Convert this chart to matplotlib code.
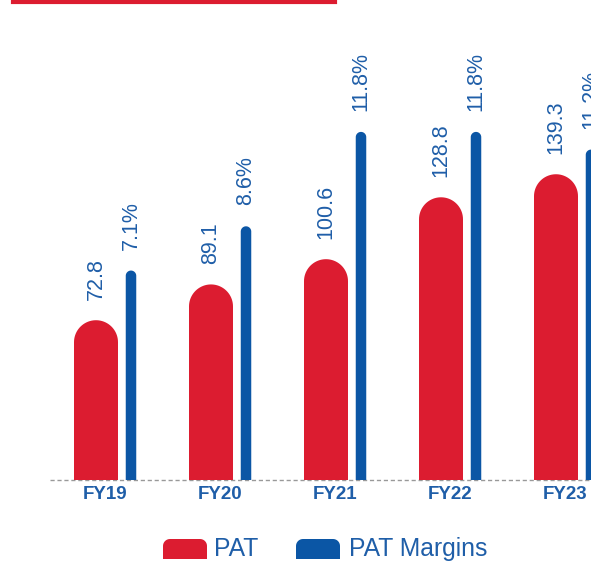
import numpy as np
import matplotlib
matplotlib.use("Agg")
import matplotlib.pyplot as plt
from matplotlib.patches import PathPatch
from matplotlib.path import Path
from matplotlib.lines import Line2D
from matplotlib.transforms import IdentityTransform

plt.rcParams['font.family'] = ['Liberation Sans', 'DejaVu Sans']

years = ["FY19", "FY20", "FY21", "FY22", "FY23"]
pat = [72.8, 89.1, 100.6, 128.8, 139.3]
margins = [7.1, 8.6, 11.8, 11.8, 11.2]
pat_labels = ["72.8", "89.1", "100.6", "128.8", "139.3"]
margin_labels = ["7.1%", "8.6%", "11.8%", "11.8%", "11.2%"]

RED = "#dc1c30"
BLUE = "#0b56a5"
TXT = "#1f5ea8"

W, H = 591, 563
fig = plt.figure(figsize=(W / 100, H / 100), dpi=100)
ax = fig.add_axes([0, 83 / H, 1, 480 / H])
ax2 = ax.twinx()
ax.set_xlim(-105 / 115, (W - 105) / 115)
ax.set_ylim(0, 480 / 2.195)
ax2.set_ylim(0, 480 / 29.5)
for a in (ax, ax2):
    a.axis("off")


def round_top_path(x0, x1, y0, y1, rx, ry):
    # rectangle with an elliptical cap of radii rx, ry on top
    xc = (x0 + x1) / 2
    yc = y1 - ry
    t = np.linspace(0, np.pi, 40)
    verts = [(x0, y0), (x1, y0), (x1, yc)]
    verts += list(zip(xc + rx * np.cos(t), yc + ry * np.sin(t)))
    verts += [(x0, yc), (x0, y0)]
    codes = [Path.MOVETO] + [Path.LINETO] * (len(verts) - 2) + [Path.CLOSEPOLY]
    return Path(verts, codes)


def rounded_bar(axis, x, w, h, color, r_px):
    # radius in pixels turned into data units through the axis scale
    x0, y0 = axis.transData.transform((0, 0))
    x1, y1 = axis.transData.transform((1, 1))
    rx = w / 2
    ry = r_px / (y1 - y0)
    axis.add_patch(PathPatch(round_top_path(x - w / 2, x + w / 2, 0, h, rx, ry),
                             facecolor=color, edgecolor="none"))


x = np.arange(len(years))
red_off, red_w = -9 / 115, 44 / 115
blue_off, blue_w = 26 / 115, 10.5 / 115

for i in range(len(years)):
    rounded_bar(ax, x[i] + red_off, red_w, pat[i], RED, 22)
    rounded_bar(ax2, x[i] + blue_off, blue_w, margins[i], BLUE, 5.25)
    ax.annotate(pat_labels[i], (x[i] + red_off, pat[i]), xytext=(0, 20),
                textcoords="offset pixels", rotation=90, ha="center", va="bottom",
                color=TXT, fontsize=15.5)
    ax2.annotate(margin_labels[i], (x[i] + blue_off, margins[i]), xytext=(0, 21),
                 textcoords="offset pixels", rotation=90, ha="center", va="bottom",
                 color=TXT, fontsize=15.5, annotation_clip=False)
    ax.annotate(years[i], (x[i], 0), xytext=(0, -6), textcoords="offset pixels",
                ha="center", va="top", color=TXT, fontsize=13.5, fontweight="bold")

ax.plot([-55 / 115, 5], [0, 0], color="#999999", lw=1, ls=(0, (3, 2)),
        clip_on=False, zorder=0)

# red rule at the top
fig.add_artist(Line2D([13 / W, 335 / W], [1 - 1.5 / H, 1 - 1.5 / H],
                      color=RED, lw=3, transform=fig.transFigure))

# legend
def legend_key(x0, color):
    y0, y1 = H - 559, H - 539
    r = 7
    verts = [(x0, y0), (x0 + 44, y0), (x0 + 44, y1 - r)]
    t = np.linspace(0, np.pi / 2, 12)
    verts += list(zip(x0 + 44 - r + r * np.cos(t), y1 - r + r * np.sin(t)))
    t = np.linspace(np.pi / 2, np.pi, 12)
    verts += list(zip(x0 + r + r * np.cos(t), y1 - r + r * np.sin(t)))
    verts += [(x0, y0)]
    codes = [Path.MOVETO] + [Path.LINETO] * (len(verts) - 2) + [Path.CLOSEPOLY]
    fig.add_artist(PathPatch(Path(verts, codes), facecolor=color, edgecolor="none",
                             transform=IdentityTransform()))

legend_key(163, RED)
legend_key(296, BLUE)
fig.text(214 / W, 1 - 549 / H, "PAT", color=TXT, fontsize=17.8, va="center")
fig.text(349 / W, 1 - 549 / H, "PAT Margins", color=TXT, fontsize=17.8, va="center")

fig.savefig("out.png", dpi=100)
